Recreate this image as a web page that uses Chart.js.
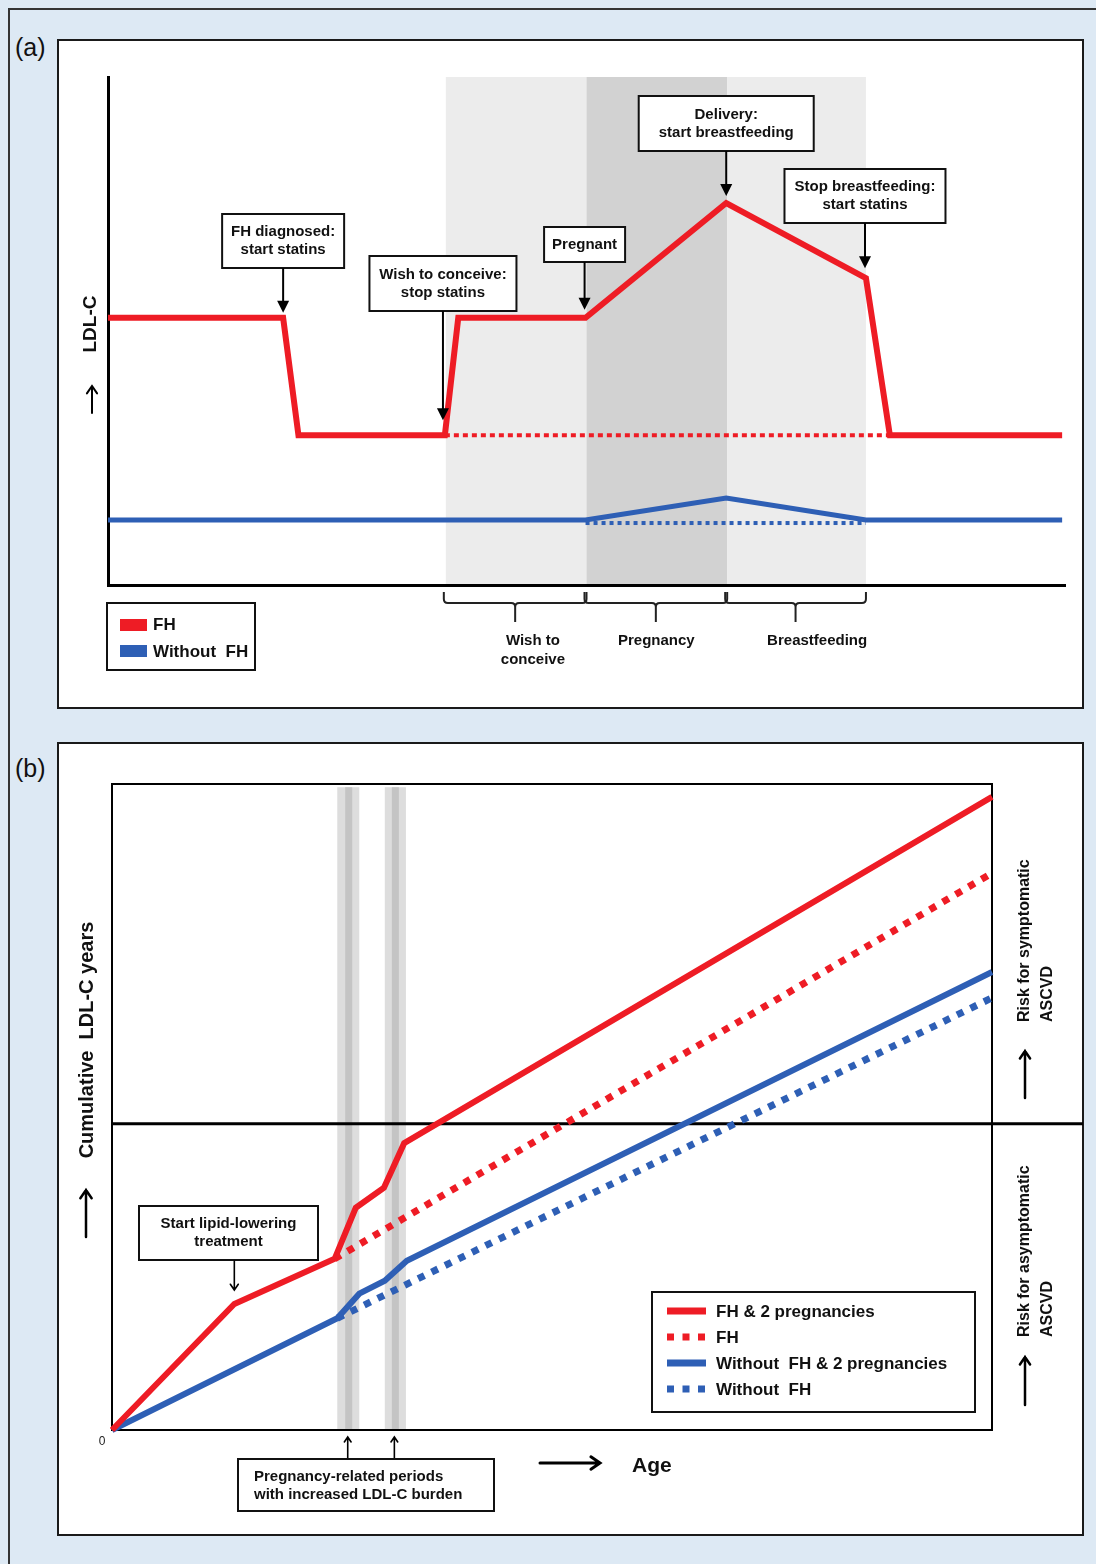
<!DOCTYPE html>
<html>
<head>
<meta charset="utf-8">
<script src="https://cdn.jsdelivr.net/npm/chart.js@4.4.0/dist/chart.umd.min.js"></script>
<style>
  html, body { margin: 0; padding: 0; }
  body { width: 1096px; height: 1564px; background: #dde9f4; position: relative; overflow: hidden;
         font-family: "Liberation Sans", Arial, sans-serif; }
  #frame { position: absolute; left: 8px; top: 8px; width: 1200px; height: 1700px;
           border-left: 2px solid #333; border-top: 2px solid #333; }
  .panel { position: absolute; background: #fff; border: 2px solid #1a1a1a; box-sizing: border-box; }
  #panelA { left: 57px; top: 39px; width: 1027px; height: 670px; }
  #panelB { left: 57px; top: 742px; width: 1027px; height: 794px; }
  .tag { position: absolute; left: 15px; font-size: 25px; line-height: 30px; color: #111; }
  canvas { position: absolute; left: 0; top: 0; }
</style>
</head>
<body>
<div id="frame"></div>
<div class="panel" id="panelA"></div>
<div class="panel" id="panelB"></div>
<div class="tag" style="top:32px">(a)</div>
<div class="tag" style="top:753px">(b)</div>
<canvas id="chartA" width="1096" height="1564"></canvas>
<canvas id="chartB" width="1096" height="1564"></canvas>
<script>
const RED = '#ee1c25';
const BLUE = '#2e5fb5';
const FONT = '"Liberation Sans", Arial, sans-serif';

// ---- panel (a): LDL-C over time ----
const timeFH = [0, 18.3, 19.9, 35.2, 36.6, 49.9, 64.6, 79.2, 81.7, 99.7];
const ldlFH = [52.6, 52.6, 29.5, 29.5, 52.6, 52.6, 75.2, 60.4, 29.5, 29.5];
const timeFHOnStatins = [35.2, 81.7];
const ldlFHOnStatins = [29.5, 29.5];
const timeNoFH = [0, 49.9, 64.6, 79.2, 99.7];
const ldlNoFH = [12.8, 12.8, 17.1, 12.8, 12.8];
const timeNoFHBase = [49.9, 79.2];
const ldlNoFHBase = [12.2, 12.2];

const phaseNames = [['Wish to', 'conceive'], ['Pregnancy'], ['Breastfeeding']];
const phaseEdges = [35.3, 50.0, 64.7, 79.2];
const phaseLabelAt = [44.4, 57.3, 74.1];

const eventNames = [
  ['FH diagnosed:', 'start statins'],
  ['Wish to conceive:', 'stop statins'],
  ['Pregnant'],
  ['Delivery:', 'start breastfeeding'],
  ['Stop breastfeeding:', 'start statins']
];
const eventTime = [18.3, 35.0, 49.8, 64.6, 79.1];
const eventLDL = [52.6, 29.5, 52.6, 75.2, 60.4];

// ---- panel (b): cumulative LDL-C years vs age ----
const ageFH2 = [0, 13.9, 25.3, 27.7, 30.9, 33.2, 100];
const cumFH2 = [0, 19.5, 26.5, 34.4, 37.5, 44.4, 98.0];
const ageFH = [25.3, 100];
const cumFH = [26.5, 86.2];
const ageNoFH2 = [0, 25.6, 28.1, 31.0, 33.5, 100];
const cumNoFH2 = [0, 17.3, 21.1, 23.1, 26.2, 70.9];
const ageNoFH = [25.6, 100];
const cumNoFH = [17.3, 66.9];

const bandStart = [25.6, 31.0];
const bandEnd = [28.1, 33.4];
const bandCoreStart = [26.5, 31.8];
const bandCoreEnd = [27.3, 32.6];
const symptomaticLevel = 47.4;
const treatmentAge = 13.9;

const legendB = ['FH & 2 pregnancies', 'FH', 'Without  FH & 2 pregnancies', 'Without  FH'];

const pts = (xs, ys) => xs.map((x, i) => ({ x: x, y: ys[i] }));

// ---- drawing helpers ----
function textBox(ctx, cx, top, w, h, lines, lh) {
  ctx.save();
  ctx.fillStyle = '#fff';
  ctx.fillRect(cx - w / 2, top, w, h);
  ctx.lineWidth = 2;
  ctx.strokeStyle = '#111';
  ctx.strokeRect(cx - w / 2, top, w, h);
  ctx.fillStyle = '#111';
  ctx.font = 'bold 15px ' + FONT;
  ctx.textAlign = 'center';
  ctx.textBaseline = 'middle';
  const y0 = top + h / 2 - (lines.length - 1) * lh / 2;
  lines.forEach((t, i) => ctx.fillText(t, cx, y0 + i * lh));
  ctx.restore();
}

function solidArrowDown(ctx, x, y1, y2) {
  ctx.save();
  ctx.strokeStyle = '#000';
  ctx.fillStyle = '#000';
  ctx.lineWidth = 2;
  ctx.beginPath();
  ctx.moveTo(x, y1);
  ctx.lineTo(x, y2 - 10);
  ctx.stroke();
  ctx.beginPath();
  ctx.moveTo(x - 6, y2 - 12);
  ctx.lineTo(x + 6, y2 - 12);
  ctx.lineTo(x, y2);
  ctx.closePath();
  ctx.fill();
  ctx.restore();
}

function openArrow(ctx, x1, y1, x2, y2, head, width) {
  const a = Math.atan2(y2 - y1, x2 - x1);
  ctx.save();
  ctx.strokeStyle = '#000';
  ctx.lineWidth = width;
  ctx.lineCap = 'round';
  ctx.beginPath();
  ctx.moveTo(x1, y1);
  ctx.lineTo(x2, y2);
  ctx.moveTo(x2 - head * Math.cos(a - 0.6), y2 - head * Math.sin(a - 0.6));
  ctx.lineTo(x2, y2);
  ctx.lineTo(x2 - head * Math.cos(a + 0.6), y2 - head * Math.sin(a + 0.6));
  ctx.stroke();
  ctx.restore();
}

function rotatedText(ctx, x, y, lines, lh, font, align) {
  ctx.save();
  ctx.translate(x, y);
  ctx.rotate(-Math.PI / 2);
  ctx.fillStyle = '#111';
  ctx.font = font;
  ctx.textAlign = align;
  ctx.textBaseline = 'middle';
  lines.forEach((t, i) => ctx.fillText(t, 0, i * lh));
  ctx.restore();
}

function brace(ctx, x1, x2, y) {
  const mid = (x1 + x2) / 2;
  ctx.save();
  ctx.strokeStyle = '#222';
  ctx.lineWidth = 2;
  ctx.beginPath();
  ctx.moveTo(x1, y);
  ctx.lineTo(x1, y + 7);
  ctx.quadraticCurveTo(x1, y + 11, x1 + 4, y + 11);
  ctx.lineTo(mid - 4, y + 11);
  ctx.quadraticCurveTo(mid, y + 11, mid, y + 15);
  ctx.lineTo(mid, y + 30);
  ctx.moveTo(mid, y + 15);
  ctx.quadraticCurveTo(mid, y + 11, mid + 4, y + 11);
  ctx.lineTo(x2 - 4, y + 11);
  ctx.quadraticCurveTo(x2, y + 11, x2, y + 7);
  ctx.lineTo(x2, y);
  ctx.stroke();
  ctx.restore();
}

const noAxis = {
  type: 'linear', min: 0, max: 100,
  grid: { display: false },
  ticks: { display: false },
  border: { display: true, color: '#000', width: 3 }
};

// box layout for the event call-outs of panel (a)
const eventBoxes = [
  { top: 214, w: 122, h: 54, gap: 5 },
  { top: 256, w: 147, h: 55, gap: 15 },
  { top: 227, w: 81, h: 35, gap: 8 },
  { top: 96, w: 175, h: 55, gap: 7 },
  { top: 169, w: 161, h: 54, gap: 10 }
];

const panelAPlugin = {
  id: 'panelA',
  beforeDraw(chart) {
    const { ctx, chartArea, scales: { x } } = chart;
    const fills = ['#ececec', '#d2d2d2', '#ececec'];
    for (let i = 0; i < phaseNames.length; i++) {
      const l = x.getPixelForValue(phaseEdges[i]);
      const r = x.getPixelForValue(phaseEdges[i + 1]);
      ctx.fillStyle = fills[i];
      ctx.fillRect(l, chartArea.top, r - l, chartArea.bottom - chartArea.top);
    }
  },
  afterDraw(chart) {
    const { ctx, chartArea, scales: { x, y } } = chart;
    // event call-outs
    eventNames.forEach((lines, i) => {
      const b = eventBoxes[i];
      const px = x.getPixelForValue(eventTime[i]);
      const tip = y.getPixelForValue(eventLDL[i]) - b.gap;
      textBox(ctx, px, b.top, b.w, b.h, lines, 18);
      solidArrowDown(ctx, px, b.top + b.h, tip);
    });
    // phase braces + labels
    ctx.save();
    ctx.font = 'bold 15px ' + FONT;
    ctx.fillStyle = '#111';
    ctx.textAlign = 'center';
    ctx.textBaseline = 'middle';
    for (let i = 0; i < phaseNames.length; i++) {
      const l = x.getPixelForValue(phaseEdges[i]) - 2;
      const r = x.getPixelForValue(phaseEdges[i + 1]);
      brace(ctx, l, r, chartArea.bottom + 7);
      const cx = x.getPixelForValue(phaseLabelAt[i]);
      phaseNames[i].forEach((t, k) => ctx.fillText(t, cx, chartArea.bottom + 56 + k * 19));
    }
    ctx.restore();
    // y-axis title
    rotatedText(ctx, 91, 324, ['LDL-C'], 0, 'bold 19px ' + FONT, 'center');
    openArrow(ctx, 92, 413, 92, 386, 9, 2);
    // legend
    ctx.save();
    ctx.lineWidth = 2;
    ctx.strokeStyle = '#111';
    ctx.strokeRect(107, 603, 148, 67);
    ctx.fillStyle = RED;
    ctx.fillRect(120, 619, 27, 12);
    ctx.fillStyle = BLUE;
    ctx.fillRect(120, 645, 27, 12);
    ctx.fillStyle = '#111';
    ctx.font = 'bold 17px ' + FONT;
    ctx.textBaseline = 'middle';
    ctx.fillText('FH', 153, 625);
    ctx.fillText('Without  FH', 153, 652);
    ctx.restore();
  }
};

new Chart(document.getElementById('chartA'), {
  type: 'line',
  data: {
    datasets: [
      { label: 'FH', data: pts(timeFH, ldlFH), borderColor: RED, borderWidth: 6 },
      { label: 'FH on statins', data: pts(timeFHOnStatins, ldlFHOnStatins), borderColor: RED, borderWidth: 4, borderDash: [5, 4] },
      { label: 'Without FH', data: pts(timeNoFH, ldlNoFH), borderColor: BLUE, borderWidth: 5 },
      { label: 'Without FH, no pregnancy', data: pts(timeNoFHBase, ldlNoFHBase), borderColor: BLUE, borderWidth: 4, borderDash: [4, 4] }
    ]
  },
  options: {
    responsive: false,
    animation: false,
    layout: { padding: { left: 100, top: 77, right: 31, bottom: 971 } },
    elements: { point: { radius: 0 }, line: { tension: 0, borderJoinStyle: 'miter' } },
    plugins: { legend: { display: false }, tooltip: { enabled: false } },
    scales: { x: noAxis, y: noAxis }
  },
  plugins: [panelAPlugin]
});

const panelBPlugin = {
  id: 'panelB',
  beforeDraw(chart) {
    const { ctx, chartArea, scales: { x, y } } = chart;
    const top = y.getPixelForValue(99.5);
    for (let i = 0; i < bandStart.length; i++) {
      let l = x.getPixelForValue(bandStart[i]);
      let r = x.getPixelForValue(bandEnd[i]);
      ctx.fillStyle = '#dddddd';
      ctx.fillRect(l, top, r - l, chartArea.bottom - top);
      l = x.getPixelForValue(bandCoreStart[i]);
      r = x.getPixelForValue(bandCoreEnd[i]);
      ctx.fillStyle = '#c4c4c4';
      ctx.fillRect(l, top, r - l, chartArea.bottom - top);
    }
  },
  beforeDatasetsDraw(chart) {
    const { ctx, chartArea, scales: { y } } = chart;
    const py = y.getPixelForValue(symptomaticLevel);
    ctx.save();
    ctx.strokeStyle = '#000';
    ctx.lineWidth = 3;
    ctx.beginPath();
    ctx.moveTo(chartArea.left, py);
    ctx.lineTo(1083, py);
    ctx.stroke();
    ctx.lineWidth = 2;
    ctx.strokeRect(chartArea.left, chartArea.top, chartArea.right - chartArea.left, chartArea.bottom - chartArea.top);
    ctx.restore();
  },
  afterDraw(chart) {
    const { ctx, chartArea, scales: { x, y } } = chart;
    // origin
    ctx.save();
    ctx.fillStyle = '#222';
    ctx.font = '12px ' + FONT;
    ctx.textAlign = 'center';
    ctx.textBaseline = 'middle';
    ctx.fillText('0', chartArea.left - 10, chartArea.bottom + 12);
    ctx.restore();
    // treatment call-out
    const tx = x.getPixelForValue(treatmentAge);
    textBox(ctx, 228.5, 1206, 179, 54, ['Start lipid-lowering', 'treatment'], 18);
    openArrow(ctx, tx, 1261, tx, 1290, 7, 1.6);
    // pregnancy period call-out
    for (let i = 0; i < bandStart.length; i++) {
      const bx = x.getPixelForValue((bandCoreStart[i] + bandCoreEnd[i]) / 2) - 1;
      openArrow(ctx, bx, 1458, bx, 1437, 6, 1.6);
    }
    ctx.save();
    ctx.lineWidth = 2;
    ctx.strokeStyle = '#111';
    ctx.strokeRect(238, 1459, 256, 52);
    ctx.fillStyle = '#111';
    ctx.font = 'bold 15px ' + FONT;
    ctx.textBaseline = 'middle';
    ctx.fillText('Pregnancy-related periods', 254, 1477);
    ctx.fillText('with increased LDL-C burden', 254, 1495);
    // x-axis title
    ctx.font = 'bold 21px ' + FONT;
    ctx.fillText('Age', 632, 1466);
    ctx.restore();
    openArrow(ctx, 540, 1463, 600, 1463, 11, 3);
    // y-axis title
    rotatedText(ctx, 87, 1040, ['Cumulative  LDL-C years'], 0, 'bold 20px ' + FONT, 'center');
    openArrow(ctx, 86, 1237, 86, 1190, 10, 2.5);
    // risk labels on the right
    rotatedText(ctx, 1025, 1022, ['Risk for symptomatic', 'ASCVD'], 23, 'bold 16px ' + FONT, 'left');
    openArrow(ctx, 1025, 1098, 1025, 1051, 9, 2.5);
    rotatedText(ctx, 1025, 1337, ['Risk for asymptomatic', 'ASCVD'], 23, 'bold 16px ' + FONT, 'left');
    openArrow(ctx, 1025, 1405, 1025, 1357, 9, 2.5);
    // legend
    ctx.save();
    ctx.lineWidth = 2;
    ctx.strokeStyle = '#111';
    ctx.strokeRect(652, 1292, 323, 120);
    const ds = chart.data.datasets;
    const rows = [1311, 1337, 1363, 1389];
    ds.forEach((d, i) => {
      ctx.strokeStyle = d.borderColor;
      ctx.lineWidth = 7;
      ctx.setLineDash(d.borderDash ? [7, 8.5] : []);
      ctx.beginPath();
      ctx.moveTo(667, rows[i]);
      ctx.lineTo(706, rows[i]);
      ctx.stroke();
    });
    ctx.setLineDash([]);
    ctx.fillStyle = '#111';
    ctx.font = 'bold 17px ' + FONT;
    ctx.textBaseline = 'middle';
    legendB.forEach((t, i) => ctx.fillText(t, 716, rows[i] + 1));
    ctx.restore();
  }
};

new Chart(document.getElementById('chartB'), {
  type: 'line',
  data: {
    datasets: [
      { label: legendB[0], data: pts(ageFH2, cumFH2), borderColor: RED, borderWidth: 6 },
      { label: legendB[1], data: pts(ageFH, cumFH), borderColor: RED, borderWidth: 7, borderDash: [7, 8] },
      { label: legendB[2], data: pts(ageNoFH2, cumNoFH2), borderColor: BLUE, borderWidth: 6 },
      { label: legendB[3], data: pts(ageNoFH, cumNoFH), borderColor: BLUE, borderWidth: 7, borderDash: [7, 8] }
    ]
  },
  options: {
    responsive: false,
    animation: false,
    layout: { padding: { left: 104, top: 784, right: 104, bottom: 126 } },
    elements: { point: { radius: 0 }, line: { tension: 0, borderJoinStyle: 'miter' } },
    plugins: { legend: { display: false }, tooltip: { enabled: false } },
    clip: false,
    scales: {
      x: Object.assign({}, noAxis, { border: { display: true, color: '#000', width: 2 } }),
      y: Object.assign({}, noAxis, { border: { display: true, color: '#000', width: 2 } })
    }
  },
  plugins: [panelBPlugin]
});
</script>
</body>
</html>
